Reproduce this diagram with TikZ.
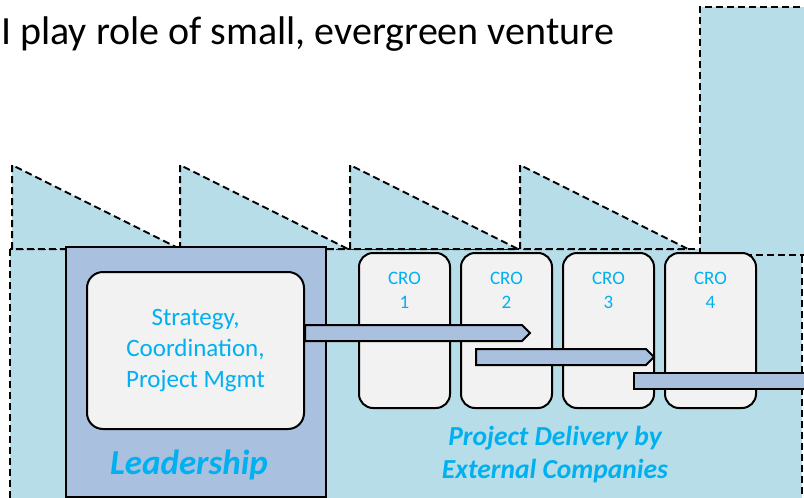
\documentclass[tikz,border=0pt]{standalone}
\usepackage{fontspec}
\setmainfont{Carlito}
\usepackage{tikz}
\usetikzlibrary{positioning}

\definecolor{factory}{RGB}{183,221,232}
\definecolor{leadfill}{RGB}{169,192,222}
\definecolor{cardfill}{RGB}{242,242,242}
\definecolor{skytext}{RGB}{0,176,240}

\tikzset{
  wall/.style={draw=black,line width=2pt,dash pattern=on 7pt off 4pt,fill=factory},
  leadbox/.style={draw=black,line width=2pt,fill=leadfill},
  card/.style={draw=black,line width=2pt,fill=cardfill,rounded corners=16pt},
  crobox/.style={card,rounded corners=14pt,minimum width=91pt,minimum height=155pt,inner sep=0pt},
  crotext/.style={text=skytext,font=\fontsize{19}{24}\selectfont,align=center,inner sep=0pt},
  flow/.style={draw=black,line width=2pt,fill=leadfill},
  bigtag/.style={text=skytext,font=\fontsize{27.5}{33}\selectfont\bfseries\itshape,align=center,inner sep=0pt}
}

\begin{document}
\begin{tikzpicture}[x=1pt,y=-1pt]
  \useasboundingbox (0,0) rectangle (804,498);
  \clip (0,0) rectangle (804,498);

  %factory
  \filldraw[wall] (10,249) rectangle (802,520);
  \foreach \xs in {12,180,350,520}
    \filldraw[wall] (\xs,249) -- (\xs,165) -- ({\xs+168},249) -- cycle;
  \filldraw[wall] (700,255) -- (700,7) -- (830,7) -- (830,255) -- cycle;

  %leadership
  \filldraw[leadbox] (66,247) rectangle (326,497);
  \node[card,minimum width=217pt,minimum height=157pt,inner sep=0pt,
        text=skytext,font=\fontsize{25}{31}\selectfont,align=center]
    (inner) at (195.5,350.5) {Strategy,\\Coordination,\\Project Mgmt};
  \node[bigtag,font=\fontsize{35}{40}\selectfont\bfseries\itshape]
    (leadtag) at (189,465) {Leadership};

  %external companies
  \node[crobox] (cro1) at (404.5,330.5) {};
  \node[crobox,right=9pt of cro1] (cro2) {};
  \node[crobox,right=9pt of cro2] (cro3) {};
  \node[crobox,right=9pt of cro3] (cro4) {};
  \foreach \i in {1,2,3,4}
    \node[crotext,below=20pt of cro\i.north] (cro\i txt) {CRO\\\i};

  %hand-offs
  \filldraw[flow]
    (inner.east |- 0,325) -- (522,325) -- (530,333) -- (522,341)
    -- (inner.east |- 0,341) -- cycle;
  \filldraw[flow]
    (476,349) -- (646,349) -- (654,357) -- (646,365) -- (476,365) -- cycle;
  \filldraw[flow]
    (634,373) -- (830,373) -- (830,389) -- (634,389) -- cycle;

  \node[bigtag] (delivery) at (555,455) {Project Delivery by\\External Companies};

  %title
  \node[anchor=base west,inner sep=0pt,font=\fontsize{40}{44}\selectfont]
    (title) at (1,44) {I play role of small, evergreen venture};
\end{tikzpicture}
\end{document}
